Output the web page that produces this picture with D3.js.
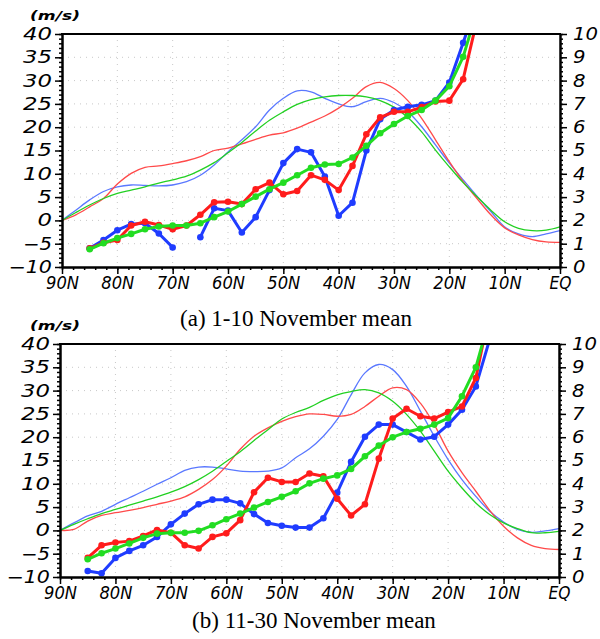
<!DOCTYPE html>
<html>
<head>
<meta charset="utf-8">
<script src="https://cdn.jsdelivr.net/npm/d3@7"></script>
<style>
  body { margin: 0; background: #fff; }
  svg { display: block; }
</style>
</head>
<body>
<script>
// latitudes of the smooth (thin) curves, 90N -> EQ
var lineLats = [90, 87.5, 85, 82.5, 80, 77.5, 75, 72.5, 70, 67.5, 65, 62.5, 60, 57.5, 55, 52.5, 50,
                47.5, 45, 42.5, 40, 37.5, 35, 32.5, 30, 27.5, 25, 22.5, 20, 17.5, 15, 12.5, 10, 7.5, 5, 2.5, 0];
// latitudes of the marked (thick) curves
var markLatsA = [85, 82.5, 80, 77.5, 75, 72.5, 70, 67.5, 65, 62.5, 60, 57.5, 55, 52.5, 50, 47.5, 45,
                 42.5, 40, 37.5, 35, 32.5, 30, 27.5, 25, 22.5, 20, 17.5, 15];
var markLatsB = [85, 82.5, 80, 77.5, 75, 72.5, 70, 67.5, 65, 62.5, 60, 57.5, 55, 52.5, 50, 47.5, 45,
                 42.5, 40, 37.5, 35, 32.5, 30, 27.5, 25, 22.5, 20, 17.5, 15, 12.5];

// (a) 1-10 November, values in m/s (left axis)
var thinBlueA  = [0, 2.2, 4.4, 6.2, 7.2, 7.6, 7.5, 7.4, 7.6, 8.3, 9.7, 11.9, 14.7, 17.3, 20.1, 23.7, 26.2,
                  27.8, 27.6, 26.2, 25.0, 24.4, 25.5, 26.2, 25.3, 23.3, 20.1, 16.2, 12.3, 8.7, 5.2, 1.9, -1.4, -2.9, -3.5, -2.9, -2.2];
var thinRedA   = [0, 1.2, 2.9, 4.7, 7.8, 10.1, 11.4, 11.7, 12.2, 12.8, 13.7, 15.0, 15.5, 16.4, 17.4, 18.3, 18.8,
                  19.8, 21.1, 22.4, 24.1, 26.2, 28.7, 29.6, 28.3, 25.7, 21.9, 17.3, 12.6, 8.3, 4.7, 1.2, -1.6, -3.1, -4.1, -4.6, -4.7];
var thinGreenA = [0, 1.7, 3.3, 4.7, 5.8, 6.5, 7.2, 8.0, 8.7, 9.5, 10.8, 12.4, 14.5, 16.7, 19.2, 21.5, 23.3,
                  24.9, 25.9, 26.5, 26.8, 26.8, 26.5, 25.7, 24.3, 22.1, 19.0, 15.1, 11.5, 8.1, 5.1, 2.2, -0.3, -1.7, -2.2, -2.1, -1.4];
var blueA  = [-6, -4.2, -2.1, -0.8, -0.6, -2.8, -5.8, null, -3.6, 2.6, 2.1, -2.6, 0.7, 6.5, 12.3, 15.3, 14.6,
              9.4, 1.0, 3.8, 15.0, 21.7, 23.7, 24.4, 24.8, 25.7, 29.6, 38.1, 47];
var redA   = [-6, -4.8, -4.2, -1.1, -0.3, -1.0, -1.9, -1.1, 1.2, 3.9, 4.0, 3.5, 6.7, 8.1, 5.6, 6.3, 9.7,
              8.7, 6.5, 11.7, 18.5, 22.1, 23.3, 23.3, 24.3, 25.5, 25.7, 30.3, 43];
var greenA = [-6.2, -4.9, -3.8, -2.9, -1.9, -1.3, -1.1, -1.1, -0.6, 0.7, 1.9, 3.5, 5.1, 6.7, 8.1, 9.7, 11.3,
              12.0, 12.1, 13.5, 16.0, 18.7, 20.7, 22.4, 23.7, 25.7, 28.8, 35.1, 45];

// (b) 11-30 November
var thinBlueB  = [0, 1.6, 3.1, 4.1, 5.6, 7.0, 8.4, 9.9, 11.3, 12.9, 13.6, 13.6, 13.2, 12.7, 12.6, 12.7, 13.4,
                  15.6, 17.5, 20.2, 23.8, 29.1, 33.8, 35.6, 34.5, 30.9, 25.6, 20.2, 15.2, 10.9, 7.3, 4.1, 1.8, 0.2, -0.4, -0.1, 0.4];
var thinRedB   = [0, 0.2, 2.0, 3.2, 3.8, 4.3, 4.9, 5.6, 6.3, 7.2, 8.8, 10.9, 13.8, 17.4, 20.2, 22.0, 23.4,
                  24.4, 25.0, 24.9, 24.5, 24.9, 26.6, 28.8, 30.6, 30.2, 27.3, 22.7, 17.0, 12.4, 8.4, 4.3, 0.9, -1.6, -3.2, -3.9, -4.1];
var thinGreenB = [0, 1.3, 2.5, 3.6, 4.5, 5.4, 6.3, 7.2, 8.2, 9.4, 10.9, 12.7, 14.8, 16.9, 19.3, 21.6, 23.9,
                  25.3, 26.4, 27.9, 29.1, 29.8, 30.2, 29.5, 27.7, 24.9, 21.3, 17.0, 12.7, 9.1, 5.9, 3.4, 1.6, 0.4, -0.5, -0.5, -0.2];
var blueB  = [-8.7, -9.2, -5.9, -4.4, -3.2, -1.4, 1.3, 3.6, 5.6, 6.6, 6.6, 5.8, 3.5, 1.6, 1.0, 0.6, 0.6,
              2.6, 8.1, 14.7, 20.1, 22.7, 22.7, 21.1, 19.5, 20.1, 22.7, 25.9, 30.9, 41];
var redB   = [-5.9, -3.2, -2.6, -2.3, -1.2, 0.1, -0.5, -3.2, -3.9, -1.4, -0.6, 2.2, 8.2, 11.3, 10.4, 10.4, 12.2,
              11.6, 6.8, 3.2, 5.6, 15.4, 24.0, 26.1, 24.5, 24.0, 25.4, 26.6, 32.7, 47];
var greenB = [-6.2, -4.9, -3.9, -2.8, -1.6, -0.7, -0.5, -0.5, -0.1, 1.1, 2.4, 3.6, 4.9, 6.1, 7.2, 8.4, 10.1,
              11.1, 11.8, 13.2, 15.9, 18.2, 20.0, 21.1, 21.8, 22.7, 24.1, 28.8, 35.0, 45.6];

var leftTicks  = [-10, -5, 0, 5, 10, 15, 20, 25, 30, 35, 40];
var rightTicks = [0, 1, 2, 3, 4, 5, 6, 7, 8, 9, 10];
var latTicks   = [90, 80, 70, 60, 50, 40, 30, 20, 10, 0];
var units = "(m/s)";

var BLUE = "#1f3cff", RED = "#ff1c1c", GREEN = "#22dd22";
var THIN_BLUE = "#5a78ff", THIN_RED = "#ff4a4a", THIN_GREEN = "#22d022";
var AXIS_FONT = "'DejaVu Sans', sans-serif";

var svg = d3.select("body").append("svg").attr("width", 600).attr("height", 639);

var panels = [
    {id: "a", left: 62, right: 560, top: 34, bottom: 267, caption: "(a) 1-10 November mean", capX: 296, capY: 326,
     thin: [[thinBlueA, THIN_BLUE], [thinRedA, THIN_RED], [thinGreenA, THIN_GREEN]],
     thick: [[blueA, BLUE], [redA, RED], [greenA, GREEN]], markLats: markLatsA},
    {id: "b", left: 60, right: 559, top: 344, bottom: 577, caption: "(b) 11-30 November mean", capX: 314, capY: 628,
     thin: [[thinBlueB, THIN_BLUE], [thinRedB, THIN_RED], [thinGreenB, THIN_GREEN]],
     thick: [[blueB, BLUE], [redB, RED], [greenB, GREEN]], markLats: markLatsB}
];

panels.forEach(drawPanel);

function drawPanel(p) {
    var x = d3.scaleLinear().domain([90, 0]).range([p.left, p.right]);
    var y = d3.scaleLinear().domain([-10, 40]).range([p.bottom, p.top]);
    var y2 = d3.scaleLinear().domain([0, 10]).range([p.bottom, p.top]);

    var g = svg.append("g");

    // dotted grid
    g.selectAll("line.hgrid")
        .data(leftTicks.slice(1, -1))
        .enter().append("line")
            .attr("x1", p.left).attr("x2", p.right)
            .attr("y1", d => y(d)).attr("y2", d => y(d))
            .attr("stroke", "#c8c8c8").attr("stroke-width", 1)
            .attr("stroke-dasharray", "1,5");
    g.selectAll("line.vgrid")
        .data(latTicks.slice(1, -1))
        .enter().append("line")
            .attr("x1", d => x(d)).attr("x2", d => x(d))
            .attr("y1", p.top).attr("y2", p.bottom)
            .attr("stroke", "#c8c8c8").attr("stroke-width", 1)
            .attr("stroke-dasharray", "1,5");

    g.append("clipPath").attr("id", "clip" + p.id)
        .append("rect")
            .attr("x", p.left).attr("y", p.top)
            .attr("width", p.right - p.left).attr("height", p.bottom - p.top);

    var plot = g.append("g").attr("clip-path", "url(#clip" + p.id + ")");

    var thinLine = d3.line()
        .x((d, i) => x(lineLats[i]))
        .y(d => y(d))
        .curve(d3.curveCatmullRom);

    p.thin.forEach(function(s) {
        plot.append("path")
            .attr("d", thinLine(s[0]))
            .attr("fill", "none")
            .attr("stroke", s[1])
            .attr("stroke-width", 1.3);
    });

    var thickLine = d3.line()
        .defined(d => d !== null)
        .x((d, i) => x(p.markLats[i]))
        .y(d => y(d));

    p.thick.forEach(function(s) {
        plot.append("path")
            .attr("d", thickLine(s[0]))
            .attr("fill", "none")
            .attr("stroke", s[1])
            .attr("stroke-width", 3)
            .attr("stroke-linejoin", "round");
        plot.selectAll(null)
            .data(s[0].map((v, i) => [p.markLats[i], v]).filter(d => d[1] !== null))
            .enter().append("circle")
                .attr("cx", d => x(d[0]))
                .attr("cy", d => y(d[1]))
                .attr("r", 3.3)
                .attr("fill", s[1]);
    });

    // axes
    var fmt = d3.format("");
    var left = g.append("g").attr("transform", "translate(" + p.left + ",0)")
        .call(d3.axisLeft(y).tickValues(leftTicks).tickFormat(fmt).tickSize(7).tickSizeOuter(0).tickPadding(3));
    var leftMinor = g.append("g").attr("transform", "translate(" + p.left + ",0)")
        .call(d3.axisLeft(y).ticks(50).tickFormat("").tickSize(3).tickSizeOuter(0));
    var right = g.append("g").attr("transform", "translate(" + p.right + ",0)")
        .call(d3.axisRight(y2).tickValues(rightTicks).tickSize(7).tickSizeOuter(0).tickPadding(6));
    var rightMinor = g.append("g").attr("transform", "translate(" + p.right + ",0)")
        .call(d3.axisRight(y2).ticks(50).tickFormat("").tickSize(3).tickSizeOuter(0));
    var bottom = g.append("g").attr("transform", "translate(0," + p.bottom + ")")
        .call(d3.axisBottom(x).tickValues(latTicks)
            .tickFormat(d => d === 0 ? "EQ" : d + "N").tickSize(7).tickSizeOuter(0).tickPadding(3));
    var bottomMinor = g.append("g").attr("transform", "translate(0," + p.bottom + ")")
        .call(d3.axisBottom(x).ticks(36).tickFormat("").tickSize(3).tickSizeOuter(0));

    g.append("line")
        .attr("x1", p.left - 1).attr("x2", p.right + 1)
        .attr("y1", p.top).attr("y2", p.top)
        .attr("stroke", "#000").attr("stroke-width", 2);

    [left, leftMinor, right, rightMinor, bottom, bottomMinor].forEach(function(a) {
        a.select(".domain").attr("stroke-width", 2);
        a.selectAll(".tick line").attr("stroke-width", 1.5);
        a.selectAll("text")
            .attr("font-family", AXIS_FONT)
            .attr("font-style", "italic")
            .attr("font-size", 17)
            .attr("fill", "#000");
    });
    left.selectAll("text").attr("textLength", function() { return this.textContent.length * 14.5; })
        .attr("lengthAdjust", "spacingAndGlyphs");
    right.selectAll("text").attr("textLength", function() { return this.textContent.length * 12.5; })
        .attr("lengthAdjust", "spacingAndGlyphs");
    bottom.selectAll("text").attr("textLength", function() { return this.textContent.length * 11; })
        .attr("lengthAdjust", "spacingAndGlyphs");

    g.append("text")
        .attr("x", 30).attr("y", p.top - 14)
        .attr("font-family", AXIS_FONT)
        .attr("font-style", "italic")
        .attr("font-weight", "bold")
        .attr("font-size", 13)
        .attr("textLength", 50)
        .attr("lengthAdjust", "spacingAndGlyphs")
        .text(units);

    svg.append("text")
        .attr("x", p.capX).attr("y", p.capY)
        .attr("text-anchor", "middle")
        .attr("font-family", "'Liberation Serif', 'Times New Roman', serif")
        .attr("font-size", 23)
        .text(p.caption);
}
</script>
</body>
</html>
